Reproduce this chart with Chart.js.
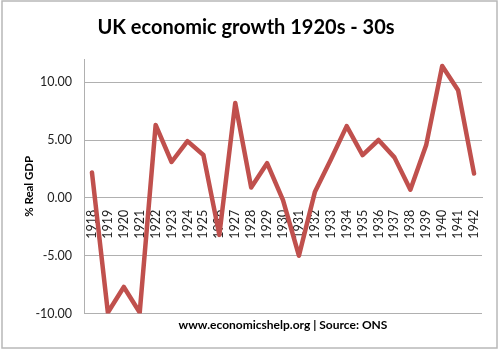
<!DOCTYPE html>
<html>
<head>
<meta charset="utf-8">
<script src="https://cdn.jsdelivr.net/npm/chart.js@4"></script>
<style>
html,body{margin:0;padding:0;background:#fff;}
#wrap{width:500px;height:350px;position:relative;}
</style>
</head>
<body>
<div id="wrap"><canvas id="c" width="500" height="350"></canvas></div>
<script>
const years = ['1918','1919','1920','1921','1922','1923','1924','1925','1926','1927','1928','1929','1930','1931','1932','1933','1934','1935','1936','1937','1938','1939','1940','1941','1942'];
const growth = [2.2,-9.9,-7.7,-9.9,6.3,3.1,4.9,3.7,-3.2,8.2,0.9,3.0,-0.2,-5.0,0.5,3.3,6.2,3.7,5.0,3.5,0.7,4.6,11.4,9.3,2.1];
const yTicks = [-10,-5,0,5,10];
const titleText = 'UK economic growth 1920s - 30s';
const yTitle = '% Real GDP';
const sourceText = 'www.economicshelp.org | Source: ONS';

const frame = {
  id:'frame',
  beforeDraw(chart){
    const ctx = chart.ctx;
    ctx.save();
    ctx.fillStyle='#fff';
    ctx.fillRect(0,0,chart.width,chart.height);
    ctx.strokeStyle='#b8b8b8';
    ctx.lineWidth=1.5;
    ctx.strokeRect(2,1,495,347);
    ctx.restore();
  }
};

new Chart(document.getElementById('c'), {
  type:'line',
  data:{
    labels: years,
    datasets:[{
      data: growth,
      borderColor:'#C0504D',
      borderWidth:4.5,
      pointRadius:0,
      tension:0,
      borderJoinStyle:'round',
      borderCapStyle:'round',
      fill:false
    }]
  },
  options:{
    responsive:false,
    animation:false,
    layout:{padding:{left:10,right:18,top:0,bottom:18}},
    plugins:{
      legend:{display:false},
      tooltip:{enabled:false},
      title:{
        display:true,
        text:titleText,
        color:'#000',
        font:{family:'Lato',size:20,weight:'bold'},
        padding:{top:16,bottom:19}
      },
      subtitle:{
        display:true,
        position:'bottom',
        fullSize:false,
        text:sourceText,
        color:'#000',
        font:{family:'Lato',size:12,weight:'bold'},
        padding:{top:4,bottom:0}
      }
    },
    scales:{
      x:{
        position:{y:0},
        offset:true,
        grid:{display:false},
        border:{display:true,color:'#b0b0b0',width:1},
        ticks:{
          minRotation:90,maxRotation:90,autoSkip:false,
          color:'#222',
          font:{family:'Lato',size:12.5},
          padding:4
        }
      },
      y:{
        min:-10,max:12,
        afterFit(s){ s.width = 74; },
        afterBuildTicks(s){ s.ticks = yTicks.map(v=>({value:v})); },
        grid:{color:'#b0b0b0',lineWidth:1,drawTicks:false},
        border:{display:true,color:'#b0b0b0',width:1},
        ticks:{
          color:'#222',
          font:{family:'Lato',size:12.5},
          padding:12,
          callback:(v)=>Number(v).toFixed(2)
        },
        title:{
          display:true,
          text:yTitle,
          color:'#000',
          font:{family:'Lato',size:11.5,weight:'bold'},
          padding:{top:12,bottom:0}
        }
      }
    }
  },
  plugins:[frame]
});
</script>
</body>
</html>
